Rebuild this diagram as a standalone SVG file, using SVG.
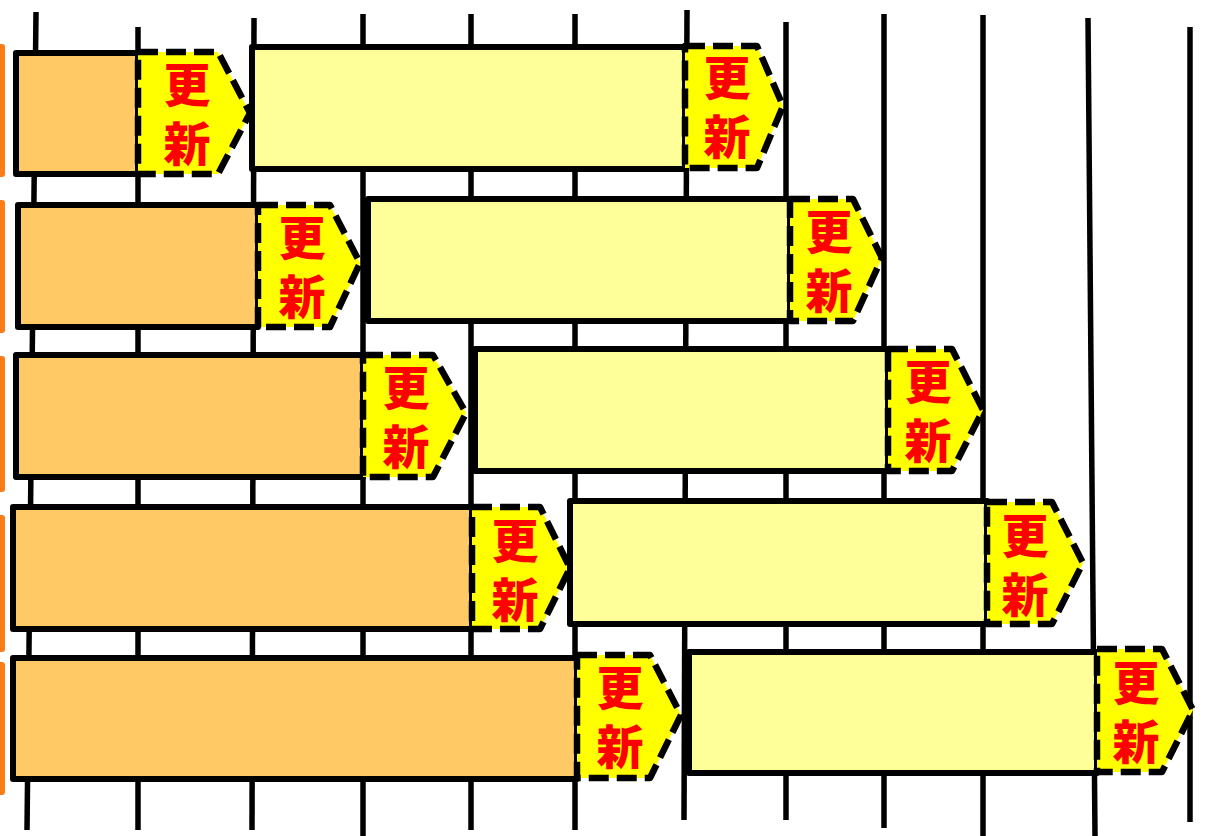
<svg xmlns="http://www.w3.org/2000/svg" width="1227" height="836" viewBox="0 0 1227 836">
<style>
.vl{stroke:#000;stroke-width:5.5;fill:none}
.bar{fill:#FA7D17}
.old{fill:#FFCA66;stroke:#000;stroke-width:6;stroke-linejoin:round}
.new{fill:#FFFF99;stroke:#000;stroke-width:6;stroke-linejoin:round}
.upd{fill:#FFFF00;stroke:#000;stroke-width:6.5;stroke-dasharray:20 8;stroke-linejoin:round}
.t{font-family:"Noto Sans CJK JP","Noto Sans CJK SC",sans-serif;font-weight:900;font-size:47px;fill:#FF0000;writing-mode:vertical-rl;text-anchor:middle;letter-spacing:12px}
</style>
<rect width="1227" height="836" fill="#fff"/>
<g id="connectors">
<line class="vl" x1="36" y1="12" x2="27" y2="830"/>
<line class="vl" x1="138" y1="27" x2="138" y2="830"/>
<line class="vl" x1="254" y1="18" x2="252" y2="830"/>
<line class="vl" x1="363" y1="14" x2="363" y2="836"/>
<line class="vl" x1="471" y1="14" x2="471" y2="830"/>
<line class="vl" x1="575" y1="14" x2="575" y2="830"/>
<line class="vl" x1="687" y1="10" x2="684" y2="820"/>
<line class="vl" x1="786" y1="22" x2="786" y2="820"/>
<line class="vl" x1="884" y1="14" x2="884" y2="828"/>
<line class="vl" x1="983" y1="15" x2="983" y2="836"/>
<line class="vl" x1="1088" y1="18" x2="1095" y2="836"/>
<line class="vl" x1="1190" y1="27" x2="1190" y2="822"/>
</g>
<g id="markers">
<rect class="bar" x="-4" y="44" width="9" height="133" rx="3"/>
<rect class="bar" x="-4" y="200" width="9" height="133" rx="3"/>
<rect class="bar" x="-4" y="356" width="9" height="136" rx="3"/>
<rect class="bar" x="-4" y="515" width="9" height="137" rx="3"/>
<rect class="bar" x="-4" y="662" width="9" height="133" rx="3"/>
</g>
<g id="row1">
<rect class="old" x="16" y="53" width="122" height="121"/>
<polygon class="upd" points="138,52 218,52 250,113 218,174 138,174"/>
<text class="t" x="187" y="120">更新</text>
<rect class="new" x="252" y="47" width="433" height="122"/>
<polygon class="upd" points="685,46 757,46 783,106 757,168 685,168"/>
<text class="t" x="727" y="113">更新</text>
</g>
<g id="row2">
<rect class="old" x="18" y="205" width="240" height="122"/>
<polygon class="upd" points="258,205 330,205 360,263 330,327 258,327"/>
<text class="t" x="302" y="273">更新</text>
<rect class="new" x="368" y="199" width="422" height="122"/>
<polygon class="upd" points="790,199 853,199 882,258 853,321 790,321"/>
<text class="t" x="829" y="267">更新</text>
</g>
<g id="row3">
<rect class="old" x="16" y="355" width="347" height="122"/>
<polygon class="upd" points="363,355 433,355 466,413 433,477 363,477"/>
<text class="t" x="406" y="423">更新</text>
<rect class="new" x="475" y="349" width="413" height="122"/>
<polygon class="upd" points="888,349 952,349 983,410 952,471 888,471"/>
<text class="t" x="928" y="417">更新</text>
</g>
<g id="row4">
<rect class="old" x="13" y="507" width="459" height="122"/>
<polygon class="upd" points="472,507 540,507 570,568 540,629 472,629"/>
<text class="t" x="515" y="576">更新</text>
<rect class="new" x="570" y="501" width="417" height="123"/>
<polygon class="upd" points="987,502 1052,502 1083,563 1052,624 987,624"/>
<text class="t" x="1025" y="571">更新</text>
</g>
<g id="row5">
<rect class="old" x="13" y="658" width="564" height="121"/>
<polygon class="upd" points="577,655 650,655 681,715 650,778 577,778"/>
<text class="t" x="620" y="723">更新</text>
<rect class="new" x="689" y="652" width="408" height="121"/>
<polygon class="upd" points="1097,649 1162,649 1193,710 1162,772 1097,772"/>
<text class="t" x="1136" y="718">更新</text>
</g>
</svg>
